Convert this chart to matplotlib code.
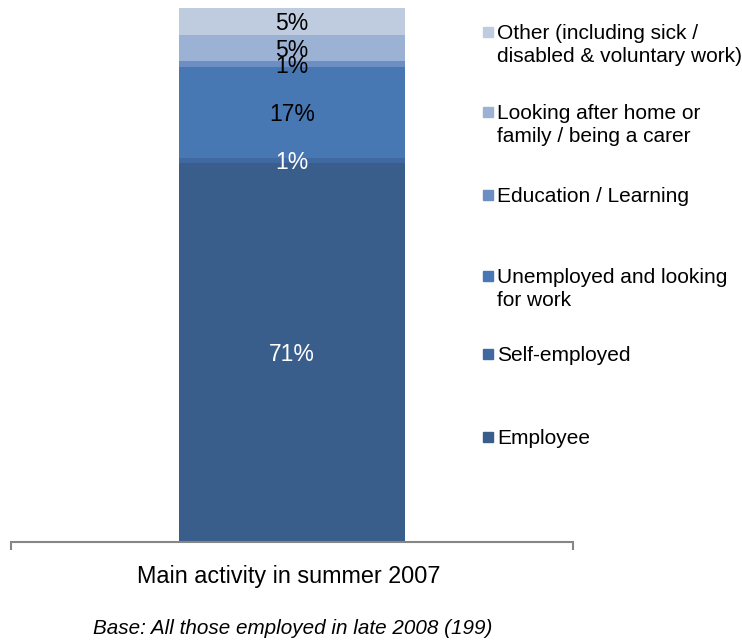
import matplotlib.pyplot as plt
from matplotlib.patches import Rectangle

plt.rcParams['font.family'] = ['Liberation Sans', 'DejaVu Sans']

# stacked from bottom to top
categories = ['Employee', 'Self-employed', 'Unemployed and looking\nfor work',
              'Education / Learning', 'Looking after home or\nfamily / being a carer',
              'Other (including sick /\ndisabled & voluntary work)']
values = [71, 1, 17, 1, 5, 5]
colors = ['#3A5E8C', '#3F69A0', '#4778B4', '#6D8EC2', '#9CB2D4', '#BFCCE0']
label_colors = ['white', 'white', 'black', 'black', 'black', 'black']
group = 'Main activity in summer 2007'
base_note = 'Base: All those employed in late 2008 (199)'

fig = plt.figure(figsize=(7.42, 6.43), dpi=100)
ax = fig.add_axes([11 / 742, 1 - 542 / 643, 562 / 742, 534 / 643])

bottom = 0
for v, c, lc in zip(values, colors, label_colors):
    ax.bar(0, v, bottom=bottom, width=0.402, color=c, linewidth=0)
    ax.text(0, bottom + v / 2 - 0.4, f'{v}%', ha='center', va='center',
            fontsize=16.5, color=lc)
    bottom += v

ax.set_xlim(-0.5, 0.5)
ax.set_ylim(0, 100)
for s in ['top', 'right', 'left']:
    ax.spines[s].set_visible(False)
ax.spines['bottom'].set_color('#868686')
ax.spines['bottom'].set_linewidth(1.5)
ax.set_yticks([])
ax.set_xticks([-0.5, 0.5])
ax.set_xticklabels(['', ''])
ax.tick_params(axis='x', length=6, width=1.5, color='#868686')

fig.text(288.5 / 742, 1 - 577 / 643, group, ha='center', va='center', fontsize=16.8)
fig.text(293 / 742, 1 - 628 / 643, base_note, ha='center', va='center',
         fontsize=14.9, style='italic')

# legend, top entry first
legend_y = [33, 113, 196, 277, 355, 438]
for lab, c, y in zip(categories[::-1], colors[::-1], legend_y):
    fig.patches.append(Rectangle((483 / 742, 1 - (y + 4) / 643), 10 / 742, 10 / 643,
                                 transform=fig.transFigure, color=c))
    fig.text(497 / 742, 1 - (y - 9) / 643, lab, ha='left', va='top',
             fontsize=15, linespacing=1.25)

fig.savefig('out.png', dpi=100)
